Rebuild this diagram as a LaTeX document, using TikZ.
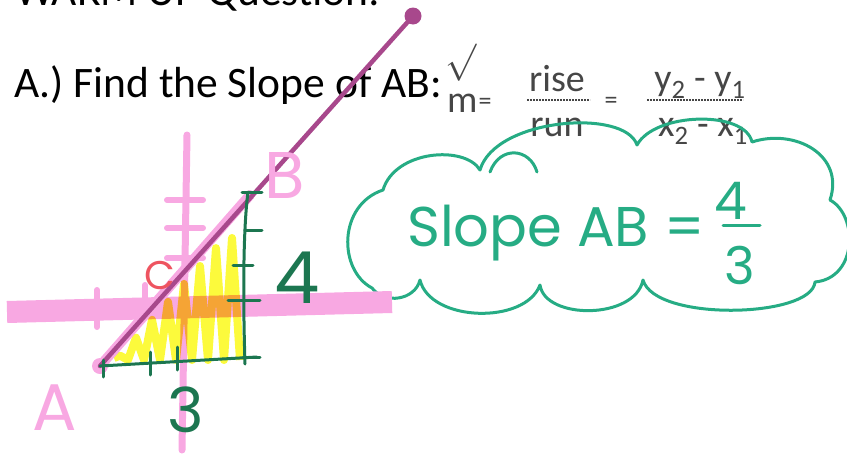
\documentclass[tikz,border=0pt]{standalone}
\usepackage{graphicx}
\usepackage{fontspec}
\setmainfont{Carlito}
\newfontfamily\handfont{Poppins}
\usetikzlibrary{positioning}
\definecolor{hlpink}{RGB}{248,168,226}
\definecolor{penpurple}{RGB}{168,72,140}
\definecolor{cloudgreen}{RGB}{38,172,132}
\definecolor{pengreen}{RGB}{28,118,80}
\definecolor{hlyellow}{RGB}{252,250,60}
\definecolor{penred}{RGB}{238,84,96}
\definecolor{scangray}{RGB}{70,70,70}

\begin{document}
\begin{tikzpicture}[x=1pt,y=-1pt,
  hl/.style={hlpink,line width=#1,line cap=round},
  pen/.style={pengreen,line width=3pt,line cap=round},
  hand/.style={font=\handfont\fontsize{#1}{#1}\selectfont,inner sep=0pt},
  scan/.style={scangray,font=\fontsize{#1}{#1}\selectfont,inner sep=0pt},
  type/.style={font=\fontsize{43.5}{43.5}\selectfont,inner sep=0pt,anchor=base west}]
  \useasboundingbox (0,0) rectangle (847,453);
  \clip (0,0) rectangle (847,453);

  \node[type] (title) at (15,5) {WARM UP Question:};
  \node[type] (task) at (14,97) {A.) Find the Slope of AB:};

  \node[scan=38] (check) at (461,63) {\scalebox{1.5}{$\surd$}};
  \node[scan=38,anchor=base west] (m) at (447,112) {m};
  \node[scan=26] (eqa) at (485,104) {=};
  \node[scan=38,anchor=base] (rise) at (557,91) {rise};
  \node[scan=38,anchor=base] (run) at (557,136) {run};
  \node[scan=26] (eqb) at (611,103) {=};
  \node[scan=38,anchor=base] (ydiff) at (700,90) {y\textsubscript{2} - y\textsubscript{1}};
  \node[scan=38,anchor=base] (xdiff) at (703,136) {x\textsubscript{2} - x\textsubscript{1}};
  \draw[scangray,densely dotted,line width=2pt] (527,100) -- (590,100);
  \draw[scangray,densely dotted,line width=2pt] (647,100) -- (743,100);

  \draw[cloudgreen,line width=3pt,line join=round]
    (383,190) .. controls (395,150) and (465,145) .. (480,170)
    .. controls (495,118) and (625,108) .. (637,145)
    .. controls (655,112) and (745,110) .. (752,142)
    .. controls (795,128) and (845,155) .. (830,200)
    .. controls (858,215) and (858,278) .. (815,282)
    .. controls (812,318) and (655,322) .. (643,280)
    .. controls (635,320) and (545,320) .. (540,285)
    .. controls (525,325) and (430,322) .. (420,280)
    .. controls (415,300) and (385,305) .. (372,288)
    .. controls (338,270) and (338,205) .. (383,190) -- cycle;
  \draw[cloudgreen,line width=3pt,line cap=round]
    (490,172) .. controls (500,145) and (530,148) .. (537,172);
  \node[hand=56,cloudgreen,anchor=base west] (slope) at (407,246) {Slope AB =};
  \node[hand=52,cloudgreen] (num) at (731,201) {4};
  \node[hand=52,cloudgreen] (den) at (740,265) {3};
  \draw[cloudgreen,line width=3pt,line cap=round] (723,225) -- (760,225);

  \coordinate (A) at (100,366);
  \coordinate (B) at (250,195);
  \coordinate (tip) at (413,16);

  \draw[hl=22pt,line cap=butt] (7,312) -- (392,302);
  \draw[hl=7pt] (187,135) -- (182,450);
  \foreach \y in {200,228,258}
    \draw[hl=6pt] (167,\y) -- (203,\y);
  \draw[hl=6pt] (97,290) -- (97,327);
  \draw[hl=6pt] (145,285) -- (145,300);

  \begin{scope}[blend mode=multiply]
    \draw[hlyellow,line width=8pt,line join=round] (114,358)
      \foreach \x [count=\i] in {120,128,...,244}
        { -- (\x,{ifthenelse(isodd(\i),max(366-(\x-100)*1.12+12,238),360)}) };
  \end{scope}

  \draw[hl=10pt] (A) -- (B);
  \fill[hlpink] (A) circle (8);
  \draw[penpurple,line width=4.5pt,line cap=round] (A) -- (tip);
  \fill[penpurple] (tip) circle (8.5);

  \draw[pen] (A) -- (257,357);
  \draw[pen] (248,192) .. controls (243,230) and (243,300) .. (245,364);
  \foreach \y/\l/\r in {192/242/262,230/245/262,265/233/253,300/228/260,357/243/260}
    \draw[pen] (\l,\y) -- (\r,\y);
  \foreach \x/\t/\b in {103/360/377,150/352/375,177/347/370}
    \draw[pen] (\x,\t) -- (\x,\b);

  \node[hand=72,pengreen] (rise) at (297,278) {4};
  \node[hand=62,pengreen] (run) at (186,410) {3};
  \node[hand=66,hlpink] (ptB) at (285,175) {B};
  \node[hand=66,hlpink] (ptA) at (55,408) {A};
  \node[hand=40,penred] (ptC) at (160,275) {C};
\end{tikzpicture}
\end{document}
